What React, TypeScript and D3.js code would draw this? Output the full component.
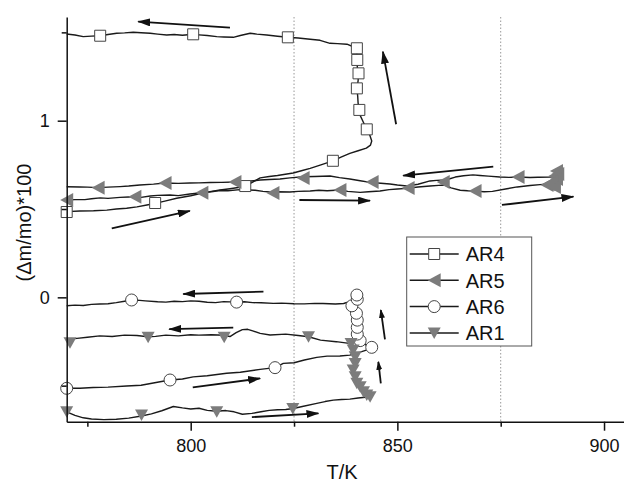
import React, { useRef, useEffect } from 'react';
import * as d3 from 'd3';

type Pt = [number, number];

// axis ticks
const xTicks = [800, 850, 900];
const xMinor = [775, 825, 875];
const yTicks = [0, 1];
const yMinor = [-0.5, 0.5, 1.5];
const refLines = [825, 875];

// AR4 : heating up the bottom, jump near 841 K, cooling along the top
const ar4Line: Pt[] = [
  [770, 0.485], [773.2, 0.489], [776.5, 0.49], [779.7, 0.494], [782, 0.5], [784.5, 0.504], [787, 0.512],
  [789.4, 0.523], [791.4, 0.532], [794, 0.546], [796.6, 0.561], [800, 0.575], [803.1, 0.592], [805, 0.6],
  [807.1, 0.608], [809.5, 0.615], [811.9, 0.623], [813.2, 0.63], [815, 0.652], [816.8, 0.676], [819, 0.684],
  [821, 0.69], [824.8, 0.704], [827, 0.718], [828.9, 0.73], [831.5, 0.75], [834.4, 0.773], [836.5, 0.795],
  [838.5, 0.815], [840.5, 0.83], [842.5, 0.845], [843.5, 0.862], [843.8, 0.885], [843.3, 0.92], [842.6, 0.951],
  [841.8, 0.99], [841, 1.03], [840.8, 1.061], [840.5, 1.1], [840.4, 1.14], [840.2, 1.183], [840.5, 1.225],
  [840.6, 1.268], [840.3, 1.305], [840.3, 1.344], [840.2, 1.38], [840.2, 1.41],
  [837.8, 1.433], [835.5, 1.436], [833.7, 1.438], [831.3, 1.455], [828.9, 1.461], [826, 1.468], [823.5, 1.472],
  [821, 1.478], [818.4, 1.485], [816, 1.49], [814.4, 1.495], [812, 1.482], [810.3, 1.472], [808, 1.474],
  [806.3, 1.476], [804, 1.482], [802, 1.486], [800.6, 1.489], [798, 1.484], [796, 1.488], [794.2, 1.485],
  [792, 1.49], [790.2, 1.495], [788, 1.498], [786.1, 1.501], [784, 1.497], [782.1, 1.495], [780, 1.488],
  [778.1, 1.481], [776, 1.479], [774, 1.476], [772, 1.485], [770, 1.491],
];
const ar4Marks: Pt[] = [
  [770, 0.483], [791.4, 0.534], [813.2, 0.63], [834.4, 0.773], [842.6, 0.951], [840.8, 1.061],
  [840.2, 1.183], [840.6, 1.268], [840.3, 1.344], [840.2, 1.41], [823.5, 1.472], [800.6, 1.489], [778.1, 1.481],
];

// AR5 : two branches
const ar5Heat: Pt[] = [
  [770, 0.551], [772, 0.553], [774.4, 0.553], [776, 0.558], [778.1, 0.563], [780, 0.56], [782.9, 0.566],
  [785, 0.568], [786.5, 0.57], [788, 0.566], [790.2, 0.574], [792, 0.577], [795, 0.579], [797, 0.576],
  [799.8, 0.585], [802.7, 0.592], [805, 0.598], [807.1, 0.605], [809, 0.603], [811.9, 0.61], [814, 0.608],
  [815.6, 0.606], [817.5, 0.6], [819.2, 0.596], [821, 0.598], [824, 0.596], [826, 0.6], [828.9, 0.602],
  [831, 0.606], [833, 0.603], [836.1, 0.608], [838, 0.6], [841, 0.594], [843, 0.598], [845.8, 0.602],
  [848, 0.61], [850, 0.613], [852.3, 0.617], [855, 0.625], [857.9, 0.63], [860, 0.634], [861.5, 0.636],
  [863, 0.62], [865.2, 0.606], [867, 0.603], [868.8, 0.601], [871, 0.598], [873, 0.6], [876.5, 0.615],
  [879, 0.625], [882.1, 0.633], [884.5, 0.638], [886.9, 0.642], [889.3, 0.653],
];
const ar5Cool: Pt[] = [
  [889.3, 0.69], [888, 0.684], [886.9, 0.681], [884, 0.68], [882.1, 0.678], [879.2, 0.681], [877, 0.679],
  [874.8, 0.681], [872, 0.686], [870, 0.69], [868.3, 0.693], [866, 0.688], [864, 0.681], [862.5, 0.67],
  [861.5, 0.664], [859.5, 0.662], [857.9, 0.659], [855, 0.64], [852.3, 0.63], [850, 0.636], [848.2, 0.642],
  [846, 0.646], [843.4, 0.651], [841, 0.66], [838.5, 0.67], [836, 0.678], [833.7, 0.687], [830, 0.684],
  [827.2, 0.683], [824, 0.676], [821.6, 0.67], [819, 0.667], [816.8, 0.664], [814, 0.657], [810.7, 0.653],
  [807.5, 0.651], [804.7, 0.65], [802, 0.648], [799.8, 0.647], [797, 0.645], [793.8, 0.647], [791, 0.641],
  [787.7, 0.636], [785, 0.63], [782.9, 0.627], [780, 0.624], [777.6, 0.621], [775, 0.624], [773.2, 0.625],
  [770, 0.626],
];
const ar5Marks: Pt[] = [
  [770, 0.551], [786.5, 0.57], [802.7, 0.592], [819.9, 0.591], [836.1, 0.608], [852.6, 0.619],
  [868.8, 0.602], [886.2, 0.636],
  [777.6, 0.621], [793.8, 0.647], [810.7, 0.653], [827.2, 0.676], [843.9, 0.653], [861.1, 0.653],
  [879.2, 0.681], [888.1, 0.687],
  [888.5, 0.715], [888.8, 0.698], [888.5, 0.67], [887.5, 0.65], [888, 0.625], [886.5, 0.64],
];

// AR6
const ar6Line: Pt[] = [
  [770, -0.515], [773.2, -0.515], [776.4, -0.51], [780, -0.508], [784.5, -0.502], [788, -0.498],
  [792.6, -0.478], [795, -0.468], [798, -0.462], [800.6, -0.45], [804, -0.444], [808.7, -0.43],
  [812, -0.424], [816.8, -0.408], [820.4, -0.398], [822.4, -0.374], [825, -0.37], [827.5, -0.355],
  [830.5, -0.34], [833, -0.333], [836.1, -0.332], [838.5, -0.327], [841, -0.31], [843.8, -0.289],
  [842.5, -0.27], [841, -0.255], [840.5, -0.23], [840.3, -0.2], [840.2, -0.17], [840.4, -0.13],
  [840.1, -0.09], [839.6, -0.05], [840.2, -0.011], [840.2, 0.013], [839, -0.02], [837, -0.035],
  [835, -0.038], [832, -0.035], [830, -0.034], [827.5, -0.037], [825, -0.036], [822, -0.033],
  [820, -0.034], [817, -0.031], [815, -0.03], [813, -0.025], [811.1, -0.027], [808, -0.024],
  [806, -0.03], [804, -0.028], [802, -0.022], [800, -0.02], [798, -0.024], [796, -0.022], [794, -0.027],
  [792, -0.025], [789, -0.02], [787, -0.016], [785.7, -0.018], [784, -0.022], [782, -0.03], [780, -0.036],
  [778, -0.038], [776, -0.04], [774, -0.046], [772, -0.044], [770, -0.048],
];
const ar6Marks: Pt[] = [
  [770, -0.515], [795, -0.468], [820.4, -0.398], [843.8, -0.283], [841, -0.245], [840.3, -0.208],
  [840.3, -0.17], [840.3, -0.129], [840.1, -0.09], [839, -0.048], [840.3, -0.011], [840.2, 0.013],
  [811.1, -0.027], [785.7, -0.015],
];

// AR1
const ar1Line: Pt[] = [
  [770, -0.648], [772, -0.668], [774, -0.682], [776, -0.689], [779, -0.692], [782, -0.69], [785, -0.684],
  [788.1, -0.672], [790.5, -0.66], [793, -0.642], [795.8, -0.618], [798, -0.626], [800, -0.632],
  [802, -0.628], [804, -0.64], [806.3, -0.645], [808.5, -0.641], [810.5, -0.648], [812.5, -0.662],
  [814.8, -0.657], [817, -0.648], [819, -0.64], [821, -0.636], [823, -0.635], [824.8, -0.629],
  [827, -0.618], [830.5, -0.6], [832.5, -0.59], [834.5, -0.582], [836.5, -0.578], [838.5, -0.576],
  [840.5, -0.57], [843.4, -0.563], [842.6, -0.553], [841.8, -0.535], [841, -0.506], [840.2, -0.487],
  [839.8, -0.449], [839.3, -0.412], [839.8, -0.374], [839.8, -0.336], [839.3, -0.298], [838.8, -0.262],
  [835.2, -0.251], [831.4, -0.242], [828.5, -0.223], [826, -0.216], [823, -0.208], [819.2, -0.213],
  [816.8, -0.204], [815, -0.19], [813.8, -0.181], [812.5, -0.183], [811, -0.2], [809.5, -0.222],
  [808, -0.215], [805, -0.212], [802, -0.214], [800, -0.212], [797, -0.218], [794, -0.214],
  [791.5, -0.221], [789.6, -0.223], [787, -0.216], [784, -0.214], [781, -0.222], [778, -0.218],
  [775, -0.226], [772.5, -0.232], [770, -0.238],
];
const ar1Marks: Pt[] = [
  [770, -0.648], [788.1, -0.666], [806.3, -0.648], [824.7, -0.629],
  [843.4, -0.563], [842.6, -0.553], [841.8, -0.535], [841, -0.506], [840.2, -0.487], [839.8, -0.449],
  [839.3, -0.412], [839.8, -0.374], [839.8, -0.336], [839.3, -0.298], [838.8, -0.262],
  [828.5, -0.223], [808.1, -0.226], [789.7, -0.226], [770.8, -0.257],
];

// arrows [T1, v1, T2, v2], head at the second point
const arrows: [number, number, number, number][] = [
  [809.5, 1.527, 787.3, 1.561],
  [849.7, 0.98, 846.5, 1.391],
  [780.9, 0.391, 799.8, 0.489],
  [826.3, 0.551, 843.4, 0.547],
  [873.2, 0.74, 851.4, 0.689],
  [875.3, 0.523, 892.6, 0.57],
  [817.6, 0.032, 798.2, 0.019],
  [810.3, -0.172, 794.8, -0.18],
  [800.5, -0.51, 816.8, -0.459],
  [814.8, -0.678, 830.9, -0.657],
  [847.0, -0.238, 846.0, -0.072],
  [846.0, -0.487, 845.4, -0.365],
];

const series = [
  { name: 'AR4', lines: [ar4Line], marks: ar4Marks, kind: 'square' },
  { name: 'AR5', lines: [ar5Heat, ar5Cool], marks: ar5Marks, kind: 'left' },
  { name: 'AR6', lines: [ar6Line], marks: ar6Marks, kind: 'circle' },
  { name: 'AR1', lines: [ar1Line], marks: ar1Marks, kind: 'down' },
];

const FONT = '"Liberation Sans", Arial, Helvetica, sans-serif';
const GREY = '#7c7c7c';

function symbolPath(kind: string) {
  if (kind === 'square') return 'M-5.5,-5.5H5.5V5.5H-5.5Z';
  if (kind === 'left') return 'M-6.5,0L6.5,-7L6.5,7Z';
  if (kind === 'down') return 'M-6.5,-5.5L6.5,-5.5L0,6Z';
  return 'M6,0A6,6 0 1,1 -6,0A6,6 0 1,1 6,0Z';
}

function styleSymbol(sel: any, kind: string) {
  const hollow = kind === 'square' || kind === 'circle';
  sel.attr('d', symbolPath(kind))
    .attr('fill', hollow ? '#fff' : GREY)
    .attr('stroke', hollow ? '#444' : 'none')
    .attr('stroke-width', 1);
}

export default function App() {
  const svgRef = useRef<SVGSVGElement>(null);

  useEffect(() => {
    const svg = d3.select(svgRef.current);
    svg.selectAll('*').remove();

    const x = d3.scaleLinear().domain([770, 905]).range([66.7, 624.7]);
    const y = d3.scaleLinear().domain([-0.704, 1.587]).range([421.7, 17]);

    const defs = svg.append('defs');
    [['ahBig', 13, 8], ['ahSmall', 9, 6]].forEach(([id, w, h]: any) => {
      defs.append('marker')
        .attr('id', id)
        .attr('viewBox', `0 0 ${w} ${h}`)
        .attr('refX', w - 1).attr('refY', h / 2)
        .attr('markerWidth', w).attr('markerHeight', h)
        .attr('markerUnits', 'userSpaceOnUse')
        .attr('orient', 'auto')
        .append('path')
        .attr('d', `M0,0L${w},${h / 2}L0,${h}Z`)
        .attr('fill', '#111');
    });

    // dotted reference lines
    svg.append('g').selectAll('line').data(refLines).join('line')
      .attr('x1', d => x(d)).attr('x2', d => x(d))
      .attr('y1', y.range()[1]).attr('y2', y.range()[0])
      .attr('stroke', '#999').attr('stroke-width', 1)
      .attr('stroke-dasharray', '1.5,2');

    const line = d3.line<Pt>().x(d => x(d[0])).y(d => y(d[1]));

    const gLines = svg.append('g');
    series.forEach(s => {
      s.lines.forEach(l => {
        gLines.append('path').datum(l)
          .attr('d', line)
          .attr('fill', 'none')
          .attr('stroke', '#1a1a1a')
          .attr('stroke-width', 1.4)
          .attr('stroke-linejoin', 'round');
      });
    });

    const gMarks = svg.append('g');
    series.forEach(s => {
      const sel = gMarks.append('g').selectAll('path').data(s.marks).join('path')
        .attr('transform', d => `translate(${x(d[0])},${y(d[1])})`);
      styleSymbol(sel, s.kind);
    });

    // arrows
    svg.append('g').selectAll('line').data(arrows).join('line')
      .attr('x1', d => x(d[0])).attr('y1', d => y(d[1]))
      .attr('x2', d => x(d[2])).attr('y2', d => y(d[3]))
      .attr('stroke', '#111')
      .attr('stroke-width', 1.8)
      .attr('marker-end', d => {
        const len = Math.hypot(x(d[2]) - x(d[0]), y(d[3]) - y(d[1]));
        return len < 40 ? 'url(#ahSmall)' : 'url(#ahBig)';
      });

    // legend
    const lg = svg.append('g').attr('transform', 'translate(406.7,237)');
    lg.append('rect').attr('width', 125).attr('height', 109)
      .attr('fill', '#fff').attr('stroke', '#555').attr('stroke-width', 1);
    series.forEach((s, i) => {
      const row = lg.append('g').attr('transform', `translate(0,${17 + i * 26.3})`);
      row.append('line').attr('x1', 3).attr('x2', 52).attr('stroke', '#1a1a1a').attr('stroke-width', 1.5);
      styleSymbol(row.append('path').attr('transform', 'translate(27.5,0)'), s.kind);
      row.append('text').attr('x', 59).attr('dy', '0.36em')
        .attr('font-family', FONT).attr('font-size', 20).attr('fill', '#111')
        .text(s.name);
    });

    // axes
    const xAxis = svg.append('g').attr('transform', `translate(0,${y.range()[0]})`)
      .call(d3.axisBottom(x).tickValues(xTicks).tickFormat(d3.format('d')).tickSize(9).tickPadding(9).tickSizeOuter(0));
    svg.append('g').attr('transform', `translate(0,${y.range()[0]})`)
      .call(d3.axisBottom(x).tickValues(xMinor).tickFormat(() => '').tickSize(5).tickSizeOuter(0))
      .select('.domain').remove();
    const yAxis = svg.append('g').attr('transform', `translate(${x.range()[0]},0)`)
      .call(d3.axisLeft(y).tickValues(yTicks).tickFormat(d3.format('d')).tickSize(9).tickPadding(8).tickSizeOuter(0));
    svg.append('g').attr('transform', `translate(${x.range()[0]},0)`)
      .call(d3.axisLeft(y).tickValues(yMinor).tickFormat(() => '').tickSize(5).tickSizeOuter(0))
      .select('.domain').remove();

    svg.selectAll('.domain, .tick line').attr('stroke', '#111').attr('stroke-width', 1.5);
    [xAxis, yAxis].forEach(a => a.selectAll('text')
      .attr('font-family', FONT).attr('font-size', 18).attr('fill', '#111'));

    svg.append('text').attr('x', 342).attr('y', 479).attr('text-anchor', 'middle')
      .attr('font-family', FONT).attr('font-size', 20).attr('fill', '#111')
      .text('T/K');
    svg.append('text').attr('transform', 'translate(24,222.5) rotate(-90)')
      .attr('text-anchor', 'middle').attr('dy', '0.35em')
      .attr('font-family', FONT).attr('font-size', 20).attr('fill', '#111')
      .text('(Δm/mo)*100');
  }, []);

  return (
    <svg ref={svgRef} width={624} height={484}
      style={{ position: 'absolute', left: 0, top: 0, background: '#fff' }} />
  );
}
